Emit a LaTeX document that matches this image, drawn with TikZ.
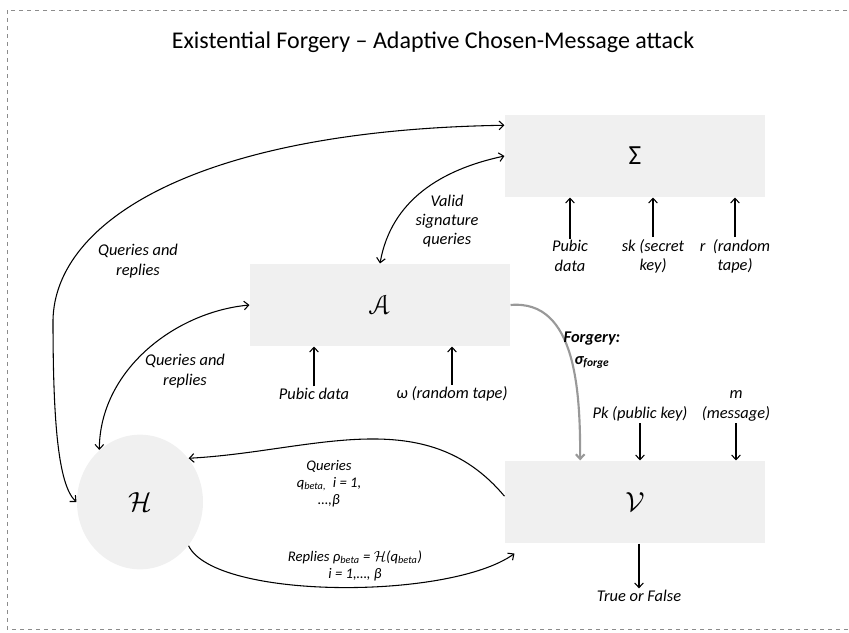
\documentclass[tikz,border=0pt]{standalone}
\usepackage{fontspec}
\setmainfont{Carlito}
\usepackage[mathscr]{euscript}
\usetikzlibrary{arrows.meta,positioning,calc,shapes.geometric}

\begin{document}
\begin{tikzpicture}[x=0.75pt,y=-0.75pt,>={Straight Barb[length=3.5pt,width=6.5pt]},line width=0.8pt,
    every node/.style={align=center},
    procbox/.style={fill=black!6,minimum width=195pt,minimum height=61.5pt,font=\huge},
    lbl/.style={font=\itshape\fontsize{12.3}{14.5}\selectfont,inner sep=1pt},
    forge/.style={->,black!40,line width=1.6pt}]
  \useasboundingbox (0,0) rectangle (849,632);
  \draw[dashed,black!45,line width=0.6pt] (7,10) rectangle (856,629);
  \node (title) at (433,42) {\fontsize{18}{21}\selectfont Existential Forgery -- Adaptive Chosen-Message attack};

  % the four parties
  \node[procbox] (sig) at (635,156) {Σ};
  \node[procbox] (adv) at (380,305) {$\mathscr{A}$};
  \node[procbox] (ver) at (635,502) {$\mathcal{V}$};
  \node[ellipse,fill=black!6,minimum width=94.5pt,minimum height=101pt,inner sep=0pt,font=\huge] (hash) at (140,502) {$\mathcal{H}$};

  % inputs of the signer
  \node[lbl] (sigpd) at (570,256) {Pubic\\data};
  \node[lbl] (sigsk) at (653,256) {sk (secret\\key)};
  \node[lbl] (sigr) at (735,256) {r\ \ (random\\tape)};
  \draw[->] (sigpd) -- (sigpd |- sig.south);
  \draw[->] (sigsk) -- (sigsk |- sig.south);
  \draw[->] (sigr) -- (sigr |- sig.south);

  % inputs of the adversary
  \node[lbl] (advpd) at (314,394) {Pubic data};
  \node[lbl] (advom) at (452,394) {ω (random tape)};
  \draw[->] (advpd) -- (advpd |- adv.south);
  \draw[->] (advom) -- (advom |- adv.south);

  % inputs and output of the verifier
  \node[lbl,anchor=south] (pk) at (640,423) {Pk (public key)};
  \node[lbl,anchor=south] (msg) at (736,423) {m\\(message)};
  \node[lbl] (tf) at (639,596) {True or False};
  \draw[->] (pk.south) -- (pk.south |- ver.north);
  \draw[->] (msg.south) -- (msg.south |- ver.north);
  \draw[->] (tf |- ver.south) -- (tf);

  % oracle queries
  \draw[<->] ($(sig.north west)!0.13!(sig.south west)$) .. controls (200,130) and (55,220) .. (53,320)
    .. controls (53,420) and (58,485) .. (hash.west);
  \node[lbl] (qr1) at (138,261) {Queries and\\replies};
  \draw[<->] (adv.north) to[out=80,in=192] (sig.west);
  \node[lbl] (valid) at (447,221) {Valid\\signature\\queries};
  \draw[<->] (adv.west) .. controls (175,312) and (100,370) .. (hash.128);
  \node[lbl] (qr2) at (185,371) {Queries and\\replies};

  % forgery
  \draw[forge] (adv.east) to[out=5,in=90] ($(ver.north west)!0.29!(ver.north east)$);
  \node[lbl,font=\bfseries\itshape\fontsize{12.3}{14.5}\selectfont] (forgery) at (592,350) {Forgery:\\[2pt]σ\textsubscript{forge}};

  % verifier and hash oracle
  \draw[->] ($(ver.north west)!0.43!(ver.south west)$) to[out=130,in=3] (hash.42);
  \node[lbl,font=\itshape\fontsize{11}{12.8}\selectfont] (queries) at (329,484) {Queries\\q\textsubscript{beta,}\ \ i = 1,\\…,β};
  \draw[->] (hash.-42) .. controls (215,600) and (450,600) .. ([xshift=7.5pt,yshift=-7.5pt]ver.south west);
  \node[lbl,font=\itshape\fontsize{11}{13}\selectfont] (replies) at (355,566) {Replies ρ\textsubscript{beta} = $\mathcal{H}$(q\textsubscript{beta})\\i = 1,…, β};
\end{tikzpicture}
\end{document}
